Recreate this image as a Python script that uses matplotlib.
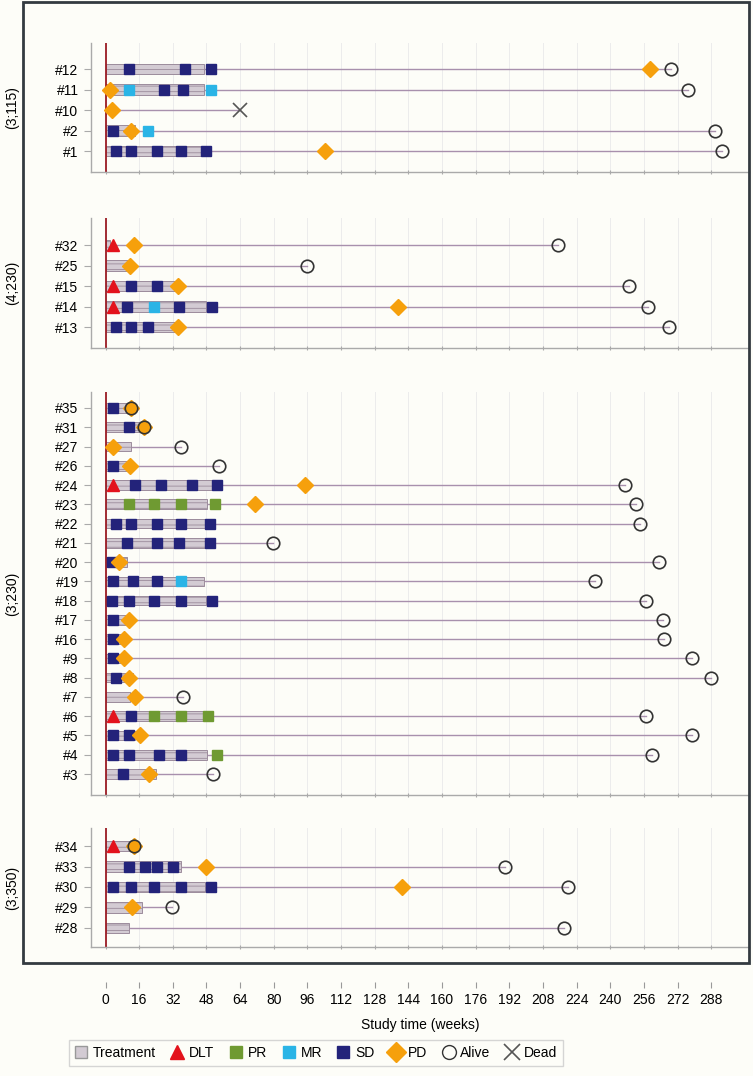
import numpy as np
import matplotlib
matplotlib.use('Agg')
from matplotlib import pyplot as plt
from matplotlib.lines import Line2D
from matplotlib.patches import Rectangle

plt.rcParams['font.family'] = ['Liberation Sans', 'DejaVu Sans']
plt.rcParams['hatch.linewidth'] = 0.6

# ---- data (weeks) ----
groups = ['(3;115)', '(4;230)', '(3;230)', '(3;350)']

g1_ids = ['#12', '#11', '#10', '#2', '#1']
g1_trt = [47, 47, 0, 14, 47]
g1_end = [269, 277, 64, 290, 293]
g1_dead = [False, False, True, False, False]
g1_sd = [[11, 38, 50], [28, 37], [], [3.5], [5, 12, 24.5, 36, 48]]
g1_pr = [[], [], [], [], []]
g1_mr = [[], [11, 50], [], [20], []]
g1_dlt = [[], [], [], [], []]
g1_pd = [[259], [2], [3], [12], [104.5]]

g2_ids = ['#32', '#25', '#15', '#14', '#13']
g2_trt = [2, 11.5, 34, 48, 34]
g2_end = [215, 96, 249, 258, 268]
g2_dead = [False] * 5
g2_sd = [[], [], [12, 24.4], [10, 35, 50.7], [5, 12, 20]]
g2_pr = [[], [], [], [], []]
g2_mr = [[], [], [], [23], []]
g2_dlt = [[3.5], [], [3.5], [3.5], []]
g2_pd = [[13.5], [11.5], [34.5], [139], [34.5]]

g3_ids = ['#35', '#31', '#27', '#26', '#24', '#23', '#22', '#21', '#20', '#19',
          '#18', '#17', '#16', '#9', '#8', '#7', '#6', '#5', '#4', '#3']
g3_trt = [14, 19.6, 12, 11, 50.8, 48.4, 49, 49, 10, 47,
          48, 11, 8, 8, 13, 11.6, 48, 14, 48.4, 24]
g3_end = [12, 18.4, 36, 54, 247, 252.5, 254, 79.5, 263, 233,
          257, 265, 265.5, 279, 288, 37, 257, 279, 260, 51]
g3_dead = [False] * 20
g3_sd = [[3.7], [11.4], [], [3.7], [14, 26.4, 41.3, 53], [], [5, 12, 24.4, 36, 49.6],
         [10.4, 24.4, 35, 49.6], [3], [3.7, 13, 24.4],
         [3.3, 11.4, 23, 36, 50.8], [3.7], [3.5], [3.5], [5], [], [12], [3.7, 11.4],
         [3.7, 11.4, 25.6, 36], [8.3]]
g3_pr = [[], [], [], [], [], [11.4, 23, 36, 52], [], [], [], [],
         [], [], [], [], [], [], [23, 36, 48.5], [], [53], []]
g3_mr = [[], [], [], [], [], [], [], [], [], [36],
         [], [], [], [], [], [], [], [], [], []]
g3_dlt = [[], [], [], [], [3.5], [], [], [], [], [],
          [], [], [], [], [], [], [3.5], [], [], []]
g3_pd = [[12], [18.4], [3.7], [11.6], [95], [71], [], [], [6.5], [],
         [], [11.4], [9], [9], [11.4], [14], [], [16.4], [], [20.8]]

g4_ids = ['#34', '#33', '#30', '#29', '#28']
g4_trt = [13, 36, 47.5, 17.5, 11.3]
g4_end = [13.5, 190, 220, 31.4, 218]
g4_dead = [False] * 5
g4_sd = [[], [11.4, 19, 24.4, 32], [3.7, 12, 23, 36, 50], [], []]
g4_pr = [[], [], [], [], []]
g4_mr = [[], [], [], [], []]
g4_dlt = [[3.5], [], [], [], []]
g4_pd = [[13.5], [48], [141], [12.8], []]

xticks = np.arange(0, 289, 16)

# ---- style ----
bg = '#fdfdf8'
c_trt = '#d3cbd3'
c_line = '#a890ad'
c_sd = '#23237a'
c_pr = '#6f9a32'
c_mr = '#2ab4e6'
c_dlt = '#e3121c'
c_pd = '#f6a00c'
W, H = 753, 1076
xlim = (-6.9, 306)

fig = plt.figure(figsize=(W / 100, H / 100), dpi=100, facecolor=bg)

# panel pixel boxes (top, bottom) and row margins
boxes = [(43, 172, 1.27, 1.02), (218, 348, 1.32, 1.02),
         (392, 795, 0.83, 1.09), (828, 947, 0.88, 0.93)]
data = [
    (g1_ids, g1_trt, g1_end, g1_dead, g1_sd, g1_pr, g1_mr, g1_dlt, g1_pd),
    (g2_ids, g2_trt, g2_end, g2_dead, g2_sd, g2_pr, g2_mr, g2_dlt, g2_pd),
    (g3_ids, g3_trt, g3_end, g3_dead, g3_sd, g3_pr, g3_mr, g3_dlt, g3_pd),
    (g4_ids, g4_trt, g4_end, g4_dead, g4_sd, g4_pr, g4_mr, g4_dlt, g4_pd),
]

for k, (top, bot, mtop, mbot) in enumerate(boxes):
    ids, trt, end, dead, sd, pr, mr, dlt, pd = data[k]
    n = len(ids)
    ax = fig.add_axes([91 / W, 1 - bot / H, (749 - 91) / W, (bot - top) / H])
    ax.set_facecolor(bg)
    ax.set_xlim(*xlim)
    ax.set_ylim(n - 1 + mbot, -mtop)
    for x in xticks:
        ax.axvline(x, color='#ececec', lw=0.7, zorder=0)
    y = np.arange(n)
    for i in range(n):
        ax.plot([0, end[i]], [i, i], color=c_line, lw=1.0, zorder=1)
    ax.barh(y, trt, left=0, height=0.5, facecolor=c_trt, edgecolor='#9c8c9c',
            hatch='---', lw=0.7, zorder=2)
    for i in range(n):
        ax.plot(sd[i], [i] * len(sd[i]), 's', color=c_sd, ms=7, zorder=3)
        ax.plot(pr[i], [i] * len(pr[i]), 's', color=c_pr, ms=7, zorder=3)
        ax.plot(mr[i], [i] * len(mr[i]), 's', color=c_mr, ms=7, zorder=3)
        ax.plot(dlt[i], [i] * len(dlt[i]), '^', color=c_dlt, ms=8, zorder=4)
        ax.plot(pd[i], [i] * len(pd[i]), 'D', color=c_pd, ms=8, zorder=4)
        if dead[i]:
            ax.plot(end[i], i, 'x', color='#555555', ms=10, mew=1.2, zorder=5)
        else:
            ax.plot(end[i], i, 'o', mfc='none', mec='#333333', ms=9, mew=1.2,
                    zorder=5)
    ax.axvline(0, color='#9b1c24', lw=1.3, zorder=2)
    ax.set_yticks(y)
    ax.set_yticklabels(ids, fontsize=10)
    ax.set_xticks(xticks)
    ax.set_xticklabels([])
    ax.tick_params(axis='y', length=5, color='#aaaaaa', pad=4)
    ax.tick_params(axis='x', length=3, direction='inout', color='#aaaaaa')
    for s in ['top', 'right']:
        ax.spines[s].set_visible(False)
    for s in ['left', 'bottom']:
        ax.spines[s].set_color('#aaaaaa')
        ax.spines[s].set_linewidth(1.0)
    fig.text(12 / W, 1 - (top + bot) / 2 / H, groups[k], rotation=90,
             ha='center', va='center', fontsize=10)

# bottom time axis
axb = fig.add_axes([91 / W, 1 - 982 / H, (749 - 91) / W, 0.0001])
axb.set_facecolor(bg)
axb.set_xlim(*xlim)
axb.set_yticks([])
axb.set_xticks(xticks)
axb.set_xticklabels([str(t) for t in xticks], fontsize=10)
axb.tick_params(axis='x', length=4, color='#999999', pad=4)
for s in axb.spines.values():
    s.set_visible(False)
axb.set_xlabel('Study time (weeks)', fontsize=10, labelpad=8)

# outer frame
fig.patches.append(Rectangle((23 / W, 1 - 963 / H), (749 - 23) / W, (963 - 2) / H,
                             transform=fig.transFigure, fill=False, lw=2,
                             edgecolor='#333a40'))

handles = [
    Line2D([], [], ls='none', marker='s', color=c_trt, mec='#999999', ms=9),
    Line2D([], [], ls='none', marker='^', color=c_dlt, ms=10),
    Line2D([], [], ls='none', marker='s', color=c_pr, ms=8),
    Line2D([], [], ls='none', marker='s', color=c_mr, ms=8),
    Line2D([], [], ls='none', marker='s', color=c_sd, ms=8),
    Line2D([], [], ls='none', marker='D', color=c_pd, ms=10),
    Line2D([], [], ls='none', marker='o', mfc='none', mec='#333333', ms=10),
    Line2D([], [], ls='none', marker='x', color='#555555', ms=11, mew=1.2),
]
labels = ['Treatment', 'DLT', 'PR', 'MR', 'SD', 'PD', 'Alive', 'Dead']
leg = fig.legend(handles, labels, ncol=8, loc='center',
                 bbox_to_anchor=(316 / W, 1 - 1053 / H), fontsize=10,
                 handlelength=0.9, handletextpad=0.4, columnspacing=1.1,
                 fancybox=False, edgecolor='#cccccc', borderpad=0.4)
leg.get_frame().set_facecolor(bg)

fig.savefig('out.png', dpi=100, facecolor=bg)
